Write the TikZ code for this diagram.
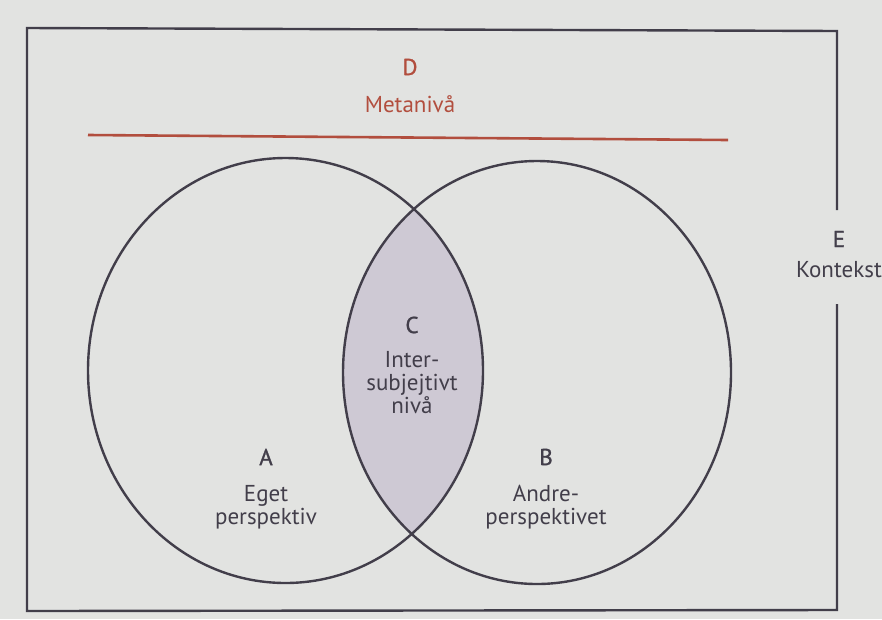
\documentclass[tikz,border=0pt]{standalone}
\usepackage{fontspec}
\setmainfont{PT Sans}
\newfontface\letterfont{PT Sans}[FakeBold=1.2]
\usepackage{xcolor}
\usetikzlibrary{positioning}

\definecolor{paper}{RGB}{226,227,225}
\definecolor{ink}{RGB}{66,62,74}
\definecolor{lens}{RGB}{206,201,212}
\definecolor{meta}{RGB}{178,78,62}

\begin{document}
\begin{tikzpicture}[
    x=1pt, y=-1pt,
    letter/.style={font=\letterfont\fontsize{23}{24}\selectfont, text=ink, inner sep=0pt},
    caption/.style={align=center, font=\fontsize{23}{23}\selectfont, text=ink, inner sep=0pt},
    ring/.style={draw=ink, line width=2.4pt},
    frame/.style={draw=ink, line width=2.4pt, line join=miter},
    node distance=20pt
]
    % Page
    \fill[paper] (0,0) rectangle (882,619);
    \useasboundingbox (0,0) rectangle (882,619);

    % Context frame with gap on the right
    \draw[frame] (837,210) -- (837,31) -- (27,28) -- (27,611) -- (837,610) -- (837,304);

    % Meta level
    \node[letter, text=meta] (d) at (410,67) {D};
    \node[caption, text=meta, below=of d] (dtext) {Metanivå};
    \draw[meta, line width=2.6pt] (88,135) -- (728,140);

    % Intersubjective overlap
    \begin{scope}
        \clip (285.5,370.5) ellipse [x radius=197.5, y radius=212.5];
        \fill[lens] (537,372.5) ellipse [x radius=194, y radius=211.5];
    \end{scope}

    % Perspectives
    \draw[ring] (285.5,370.5) ellipse [x radius=197.5, y radius=212.5];
    \draw[ring] (537,372.5) ellipse [x radius=194, y radius=211.5];

    % Labels
    \node[letter] (a) at (266,457) {A};
    \node[caption, below=of a] (atext) {Eget\\perspektiv};

    \node[letter] (b) at (546,457) {B};
    \node[caption, below=of b] (btext) {Andre-\\perspektivet};

    \node[letter] (c) at (412,325) {C};
    \node[caption, below=18pt of c] (ctext) {Inter-\\subjejtivt\\nivå};

    \node[letter] (e) at (839,239) {E};
    \node[caption, below=14pt of e] (etext) {Kontekst};
\end{tikzpicture}
\end{document}
